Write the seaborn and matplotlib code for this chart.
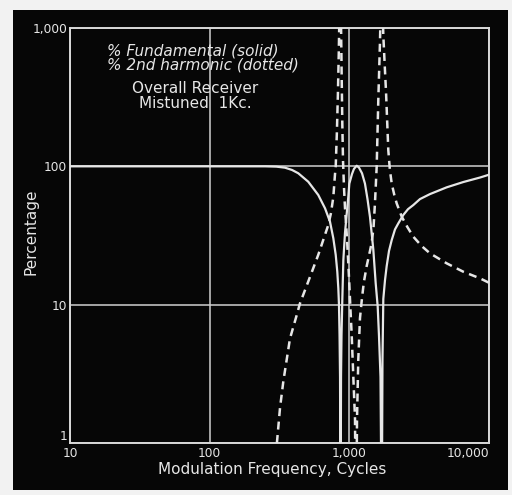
import matplotlib
matplotlib.use("Agg")
import matplotlib.pyplot as plt
from matplotlib.patches import Rectangle
from matplotlib.ticker import NullLocator
import pandas as pd
import seaborn as sns

# Fundamental output (solid curve), percent vs modulation frequency
freq_fund = [10, 20, 50, 100, 200, 250, 300, 346, 389, 431, 508, 599, 670, 727,
             768, 799, 820, 834, 843, 851, 858, 865, 872, 879, 891, 906, 931,
             957, 983, 1000, 1045, 1080, 1129, 1172, 1233, 1294, 1349, 1406,
             1485, 1544, 1596, 1630, 1672, 1705, 1727, 1751, 1800, 1851, 1924,
             2011, 2123, 2242, 2435, 2630, 2871, 3206, 3779, 4977, 6546, 8620,
             10000]
pct_fund = [100, 100, 100, 100, 100, 100, 99.5, 97.8, 94.1, 89.1, 77.4, 62.1,
            49.7, 39.8, 30.2, 22.9, 17.3, 13.1, 10, 6, 3, 0.2, 3, 6, 11, 21, 33,
            45, 60, 75, 88, 96, 101, 98, 89, 75, 58, 43,
            25, 14.3, 9.7, 6, 3, 0.2, 4, 11, 15, 19, 24.5,
            29.3, 35, 38.7, 44.5, 49, 52.5, 58, 63, 70.5, 77, 83,
            87]

# Second harmonic (dotted curve)
freq_harm = [303, 319, 337, 376, 420, 443, 508, 599, 707, 739, 768, 789, 799,
             815, 828, 840, 850, 860, 870, 880, 891, 901, 916, 931, 957, 978,
             1000, 1020, 1040, 1068, 1098, 1116, 1135, 1159, 1192, 1230, 1270,
             1331, 1400, 1445, 1490, 1527, 1570, 1612, 1658, 1680, 1705, 1730,
             1750, 1790, 1830, 1870, 1901, 1950, 2011, 2100, 2183, 2280, 2372,
             2600, 2871, 3300, 3779, 4977, 6546, 8620, 10000]
pct_harm = [1.0, 1.8, 2.8, 5.7, 8.4, 10.2, 14.7, 22.9, 37.7, 46, 60, 87, 100,
            180, 330, 650, 1300, 5000, 1300, 500, 200, 110, 70, 50, 33, 22,
            14, 9, 6, 3, 1.5, 0.15, 1.5, 4, 8, 11, 14.5,
            19, 24, 28, 36, 55, 100, 300, 800, 1500, 5000, 1500,
            900, 550, 350, 200, 131, 95, 75, 62, 54, 48, 43.3,
            36.5, 31, 26.5, 23.5, 19.9, 17.3, 15.5, 14.4]

x_ticks = [10, 100, 1000, 10000]
x_ticklabels = ["10", "100", "1,000", "10,000"]
y_ticks = [1, 10, 100, 1000]
y_ticklabels = ["1", "10", "100", "1,000"]

fund = pd.DataFrame({"freq": freq_fund, "pct": pct_fund})
harm = pd.DataFrame({"freq": freq_harm, "pct": pct_harm})

sns.set_style("dark")
W, H = 512, 495
fig = plt.figure(figsize=(W / 100, H / 100), dpi=100, facecolor="#f2f2f2")
fig.patches.append(Rectangle((13 / W, 1 - 490 / H), (508 - 13) / W, (490 - 10) / H,
                             transform=fig.transFigure, facecolor="#060606",
                             edgecolor="none", zorder=-5))

ax = fig.add_axes([70 / W, 1 - 443 / H, (489 - 70) / W, (443 - 28) / H])
ax.set_facecolor("#060606")

ink = "#e6e6e6"
sns.lineplot(data=fund, x="freq", y="pct", ax=ax, color=ink, lw=1.6,
             estimator=None, sort=False, zorder=3)
sns.lineplot(data=harm, x="freq", y="pct", ax=ax, color=ink, lw=1.8,
             linestyle=(0, (3.2, 2.2)), estimator=None, sort=False, zorder=3)

ax.set_xscale("log")
ax.set_yscale("log")
ax.set_xlim(10, 10000)
ax.set_ylim(1, 1000)
ax.xaxis.set_minor_locator(NullLocator())
ax.yaxis.set_minor_locator(NullLocator())
ax.set_xticks(x_ticks)
ax.set_xticklabels(x_ticklabels)
ax.set_yticks(y_ticks)
ax.set_yticklabels(y_ticklabels)
ax.tick_params(length=0, colors=ink, labelsize=8.8)
ax.tick_params(axis="y", pad=2)
ax.tick_params(axis="x", pad=3)
ax.get_yticklabels()[0].set_va("bottom")
ax.get_xticklabels()[-1].set_ha("right")
ax.grid(True, which="major", color="#cfcfcf", lw=1.1)
for s in ax.spines.values():
    s.set_visible(True)
    s.set_color("#d8d8d8")
    s.set_linewidth(1.4)

ax.set_xlabel("Modulation Frequency, Cycles", color=ink, fontsize=11)
ax.xaxis.set_label_coords(0.482, -0.045)
ax.set_ylabel("Percentage", color=ink, fontsize=11)
ax.yaxis.set_label_coords(-0.075, 0.51)

fig.text(107 / W, 1 - 58 / H, "% Fundamental (solid)\n% 2nd harmonic (dotted)",
         color=ink, fontsize=11, style="italic", ha="left", va="center",
         linespacing=0.95)
fig.text(195 / W, 1 - 96 / H, "Overall Receiver\nMistuned  1Kc.", color=ink,
         fontsize=11, ha="center", va="center", multialignment="center",
         linespacing=0.95)

fig.savefig("out.png", dpi=100, facecolor=fig.get_facecolor())
